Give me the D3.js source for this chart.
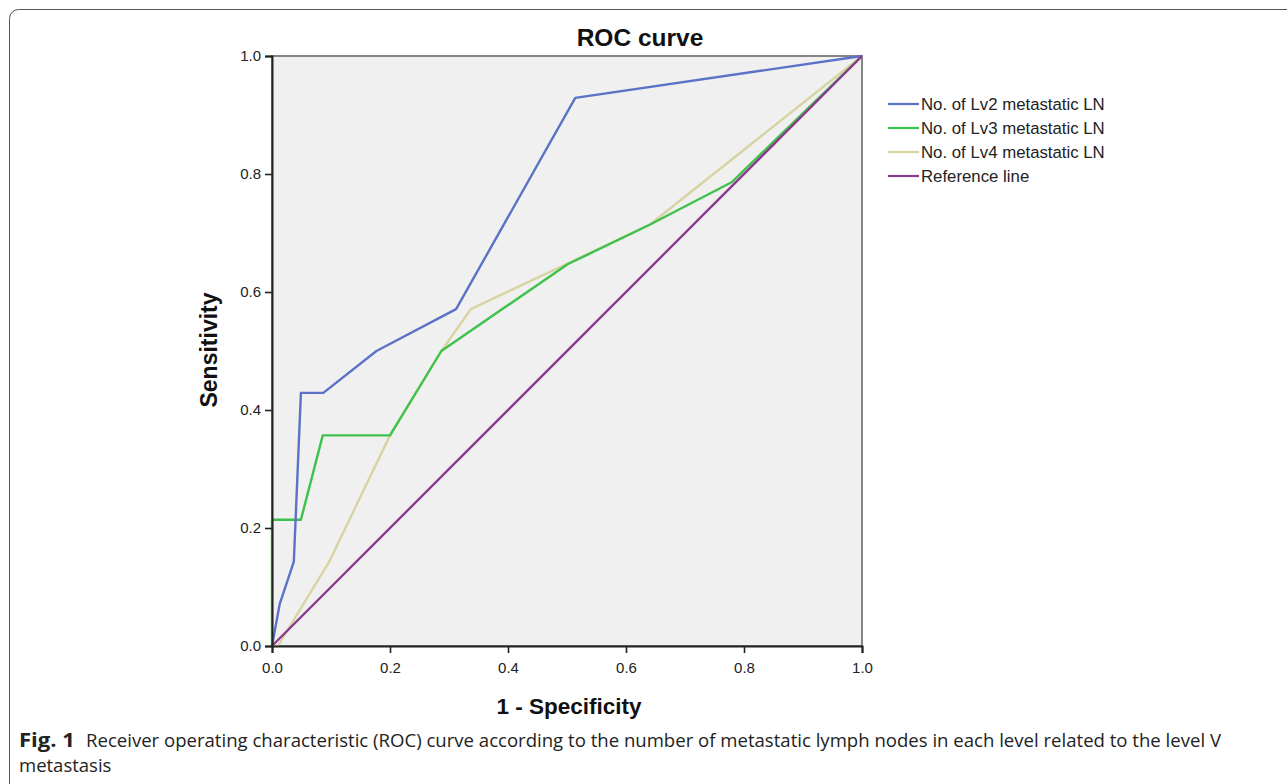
<!DOCTYPE html>
<html>
<head>
<meta charset="utf-8">
<script src="https://cdn.jsdelivr.net/npm/d3@7"></script>
<style>
  body { margin: 0; background: #fff; }
  svg { display: block; }
</style>
</head>
<body>
<div id="chart"></div>
<script>
// ROC points (x = 1 - specificity, y = sensitivity)
const lv2 = [[0,0],[0.013,0.071],[0.037,0.143],[0.049,0.429],[0.087,0.429],[0.177,0.5],[0.312,0.571],[0.514,0.929],[1,1]];
const lv3 = [[0,0],[0,0.214],[0.049,0.214],[0.086,0.357],[0.2,0.357],[0.287,0.5],[0.501,0.647],[0.64,0.714],[0.779,0.786],[1,1]];
const lv4 = [[0,0],[0.01,0],[0.097,0.143],[0.2,0.357],[0.287,0.5],[0.337,0.571],[0.64,0.714],[1,1]];
const refLine = [[0,0],[1,1]];

const seriesNames = ["No. of Lv2 metastatic LN", "No. of Lv3 metastatic LN", "No. of Lv4 metastatic LN", "Reference line"];
const seriesColors = ["#5b72c6", "#3fc24c", "#d8d4a2", "#8b3b8d"];
const ticks = [0, 0.2, 0.4, 0.6, 0.8, 1.0];

const width = 1287, height = 784;
const svg = d3.select("#chart").append("svg")
    .attr("width", width)
    .attr("height", height);

// outer rounded frame of the figure
svg.append("rect")
    .attr("x", 9.5).attr("y", 9.5)
    .attr("width", 1300).attr("height", 790)
    .attr("rx", 9)
    .attr("fill", "none")
    .attr("stroke", "#555")
    .attr("stroke-width", 1);

const plotLeft = 272, plotRight = 862, plotTop = 56, plotBottom = 646;
const x = d3.scaleLinear().domain([0, 1]).range([plotLeft, plotRight]);
const y = d3.scaleLinear().domain([0, 1]).range([plotBottom, plotTop]);

svg.append("rect")
    .attr("x", plotLeft).attr("y", plotTop)
    .attr("width", plotRight - plotLeft).attr("height", plotBottom - plotTop)
    .attr("fill", "#f0f0f0")
    .attr("stroke", "#858585")
    .attr("stroke-width", 2);

const line = d3.line().x(d => x(d[0])).y(d => y(d[1]));
const allSeries = [lv2, lv3, lv4, refLine];

// draw in order so reference line sits on top like SPSS
[lv4, lv3, lv2, refLine].forEach(s => {
    const i = allSeries.indexOf(s);
    svg.append("path")
        .datum(s)
        .attr("d", line)
        .attr("fill", "none")
        .attr("stroke", seriesColors[i])
        .attr("stroke-width", 2.4)
        .attr("stroke-linejoin", "round");
});

// axes
const xAxis = svg.append("g")
    .attr("transform", `translate(0,${plotBottom})`)
    .call(d3.axisBottom(x).tickValues(ticks).tickFormat(d3.format(".1f")).tickSize(7).tickPadding(9));
const yAxis = svg.append("g")
    .attr("transform", `translate(${plotLeft},0)`)
    .call(d3.axisLeft(y).tickValues(ticks).tickFormat(d3.format(".1f")).tickSize(7).tickPadding(4));

[xAxis, yAxis].forEach(g => {
    g.select(".domain").attr("stroke", "#222").attr("stroke-width", 2);
    g.selectAll(".tick line").attr("stroke", "#222").attr("stroke-width", 1.6);
    g.selectAll(".tick text")
        .attr("fill", "#222")
        .style("font-family", "Liberation Sans, Arial, sans-serif")
        .style("font-size", "15px");
});

// titles
svg.append("text")
    .attr("x", 640).attr("y", 46)
    .attr("text-anchor", "middle")
    .style("font-family", "Liberation Sans, Arial, sans-serif")
    .style("font-weight", "bold")
    .style("font-size", "24.5px")
    .attr("fill", "#111")
    .text("ROC curve");

svg.append("text")
    .attr("x", 569).attr("y", 714)
    .attr("text-anchor", "middle")
    .style("font-family", "Liberation Sans, Arial, sans-serif")
    .style("font-weight", "bold")
    .style("font-size", "22.5px")
    .attr("fill", "#111")
    .text("1 - Specificity");

svg.append("text")
    .attr("transform", `translate(217,350) rotate(-90)`)
    .attr("text-anchor", "middle")
    .style("font-family", "Liberation Sans, Arial, sans-serif")
    .style("font-weight", "bold")
    .style("font-size", "23px")
    .attr("fill", "#111")
    .text("Sensitivity");

// legend
const legend = svg.append("g").attr("transform", "translate(888,104)");
seriesNames.forEach((name, i) => {
    const row = legend.append("g").attr("transform", `translate(0,${i * 24})`);
    row.append("line")
        .attr("x1", 0).attr("x2", 31)
        .attr("stroke", seriesColors[i])
        .attr("stroke-width", 2.2);
    row.append("text")
        .attr("x", 33).attr("dy", "0.35em")
        .style("font-family", "Liberation Sans, Arial, sans-serif")
        .style("font-size", "16.8px")
        .attr("fill", "#222")
        .text(name);
});

// caption
const capFont = "Open Sans, Noto Sans, sans-serif";
svg.append("text")
    .attr("x", 19).attr("y", 747)
    .attr("textLength", 56)
    .attr("lengthAdjust", "spacingAndGlyphs")
    .style("font-family", capFont)
    .style("font-size", "20px")
    .style("font-weight", "bold")
    .attr("fill", "#222")
    .text("Fig. 1");
svg.append("text")
    .attr("x", 86).attr("y", 747)
    .attr("textLength", 1135)
    .attr("lengthAdjust", "spacingAndGlyphs")
    .style("font-family", capFont)
    .style("font-size", "18.5px")
    .attr("fill", "#222")
    .text("Receiver operating characteristic (ROC) curve according to the number of metastatic lymph nodes in each level related to the level V");
svg.append("text")
    .attr("x", 19).attr("y", 772)
    .style("font-family", capFont)
    .style("font-size", "18.5px")
    .attr("fill", "#222")
    .text("metastasis");
</script>
</body>
</html>
